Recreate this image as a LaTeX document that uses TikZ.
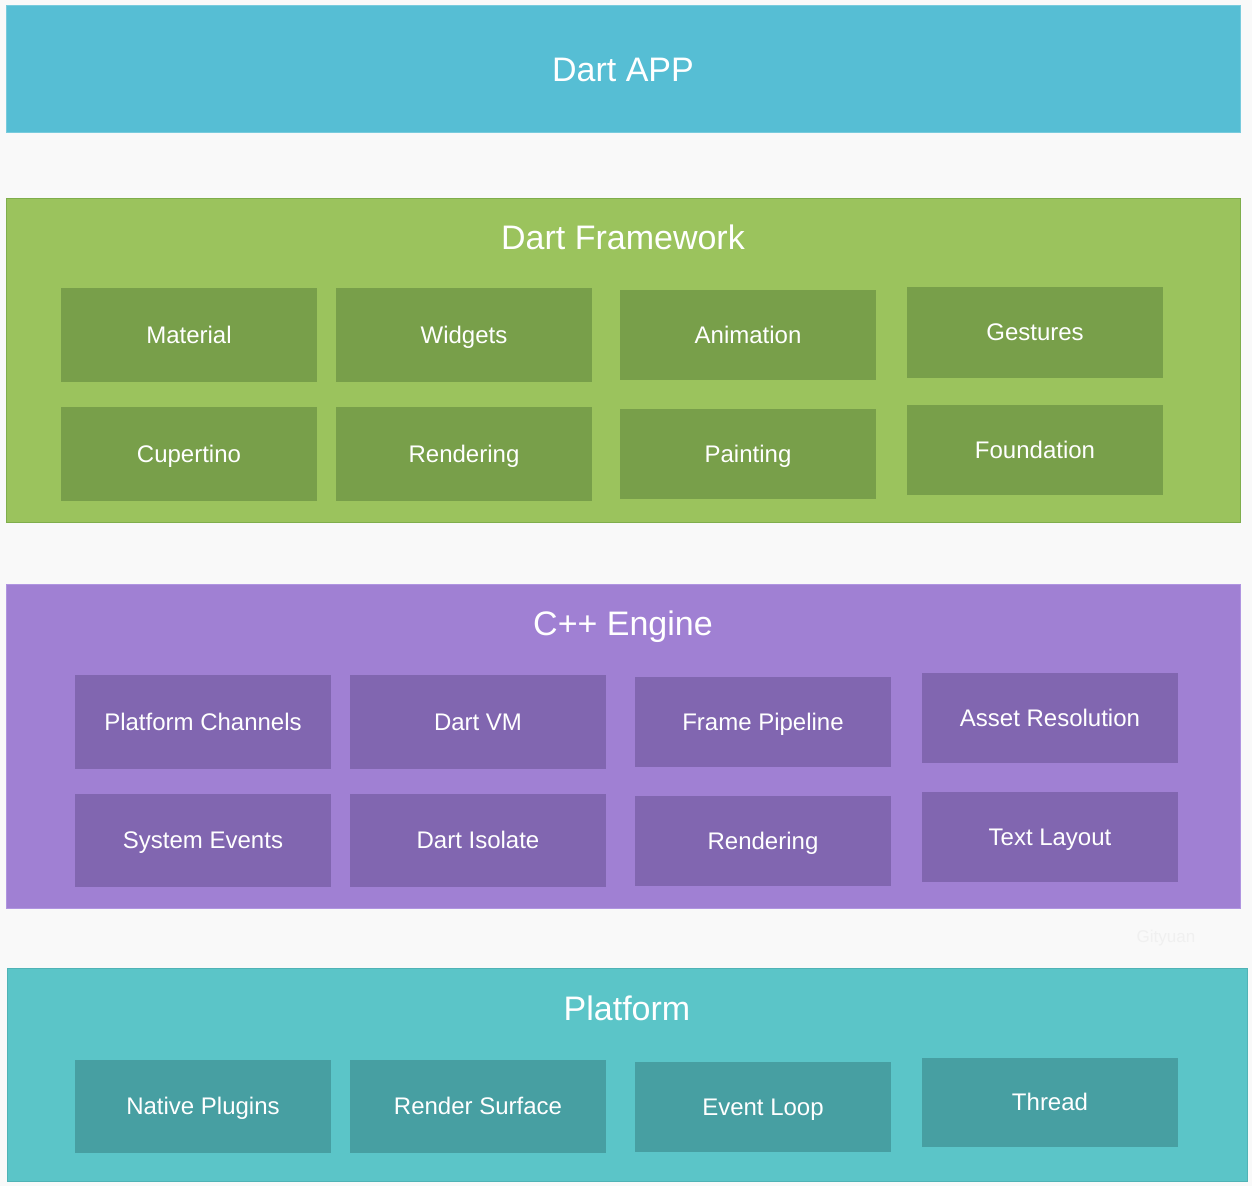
\documentclass[tikz,border=0pt]{standalone}
\usepackage{fontspec}
\setmainfont{Liberation Sans}
\definecolor{pagebg}{HTML}{F9F9F9}
\definecolor{appfill}{HTML}{56BED4}
\definecolor{fwfill}{HTML}{9BC35D}
\definecolor{fwline}{HTML}{7FAE4C}
\definecolor{fwbox}{HTML}{789F4A}
\definecolor{engfill}{HTML}{A080D3}
\definecolor{engline}{HTML}{B095E0}
\definecolor{engbox}{HTML}{8166B0}
\definecolor{platfill}{HTML}{5BC5C8}
\definecolor{platline}{HTML}{4FB3B6}
\definecolor{platbox}{HTML}{479FA2}

\begin{document}
\begin{tikzpicture}
    [x=1pt, y=-1pt,
      layer/.style={anchor=north west, inner sep=0pt, line width=1pt},
      title/.style={text=white, inner sep=0pt, text height=24.5pt, text depth=0pt,
        font=\fontsize{34}{40}\selectfont},
      part/.style={text=white, inner sep=0pt, minimum width=256pt,
        minimum height=94pt, text height=17.3pt, text depth=0pt,
        font=\fontsize{24}{28}\selectfont},
      fwpart/.style={part, fill=fwbox},
      engpart/.style={part, fill=engbox},
      platpart/.style={part, fill=platbox}]
    \fill[pagebg] (0,0) rectangle (1252,1186);
    \useasboundingbox (0,0) rectangle (1252,1186);
    % layers
    \node[layer, fill=appfill, draw=appfill!80!white, minimum width=1234pt,
      minimum height=127pt] (app) at (6,5) {};
    \node[title] (apptitle) at (623,69) {Dart APP};
    \node[layer, fill=fwfill, draw=fwline, minimum width=1234pt,
      minimum height=324pt] (framework) at (6,198) {};
    \node[title] (fwtitle) at (623,237) {Dart Framework};
    \node[layer, fill=engfill, draw=engline, minimum width=1234pt,
      minimum height=324pt] (engine) at (6,584) {};
    \node[title] (engtitle) at (623,623) {C++ Engine};
    \node[layer, fill=platfill, draw=platline, minimum width=1240pt,
      minimum height=213pt] (platform) at (7,968) {};
    \node[title] (plattitle) at (627,1008) {Platform};
    % framework
    \node[fwpart] (material) at (189,335) {Material};
    \node[fwpart] (widgets) at (464,335) {Widgets};
    \node[fwpart, minimum height=90pt] (animation) at (748,335) {Animation};
    \node[fwpart, minimum height=91pt] (gestures) at (1035,332) {Gestures};
    \node[fwpart] (cupertino) at (189,454) {Cupertino};
    \node[fwpart] (fwrendering) at (464,454) {Rendering};
    \node[fwpart, minimum height=90pt] (painting) at (748,454) {Painting};
    \node[fwpart, minimum height=90pt] (foundation) at (1035,450) {Foundation};
    % engine
    \node[engpart] (channels) at (203,722) {Platform Channels};
    \node[engpart] (dartvm) at (478,722) {Dart VM};
    \node[engpart, minimum height=90pt] (pipeline) at (763,722) {Frame Pipeline};
    \node[engpart, minimum height=90pt] (assets) at (1050,718) {Asset Resolution};
    \node[engpart, minimum height=93pt] (events) at (203,840) {System Events};
    \node[engpart, minimum height=93pt] (isolate) at (478,840) {Dart Isolate};
    \node[engpart, minimum height=90pt] (engrendering) at (763,841) {Rendering};
    \node[engpart, minimum height=90pt] (textlayout) at (1050,837) {Text Layout};
    % platform
    \node[platpart, minimum height=93pt] (plugins) at (203,1106) {Native Plugins};
    \node[platpart, minimum height=93pt] (surface) at (478,1106) {Render Surface};
    \node[platpart, minimum height=90pt] (eventloop) at (763,1107) {Event Loop};
    \node[platpart, minimum height=89pt] (thread) at (1050,1102) {Thread};
    \node[text=black!6, font=\fontsize{17}{20}\selectfont] (mark) at (1166,938) {Gityuan};
  \end{tikzpicture}
\end{document}
